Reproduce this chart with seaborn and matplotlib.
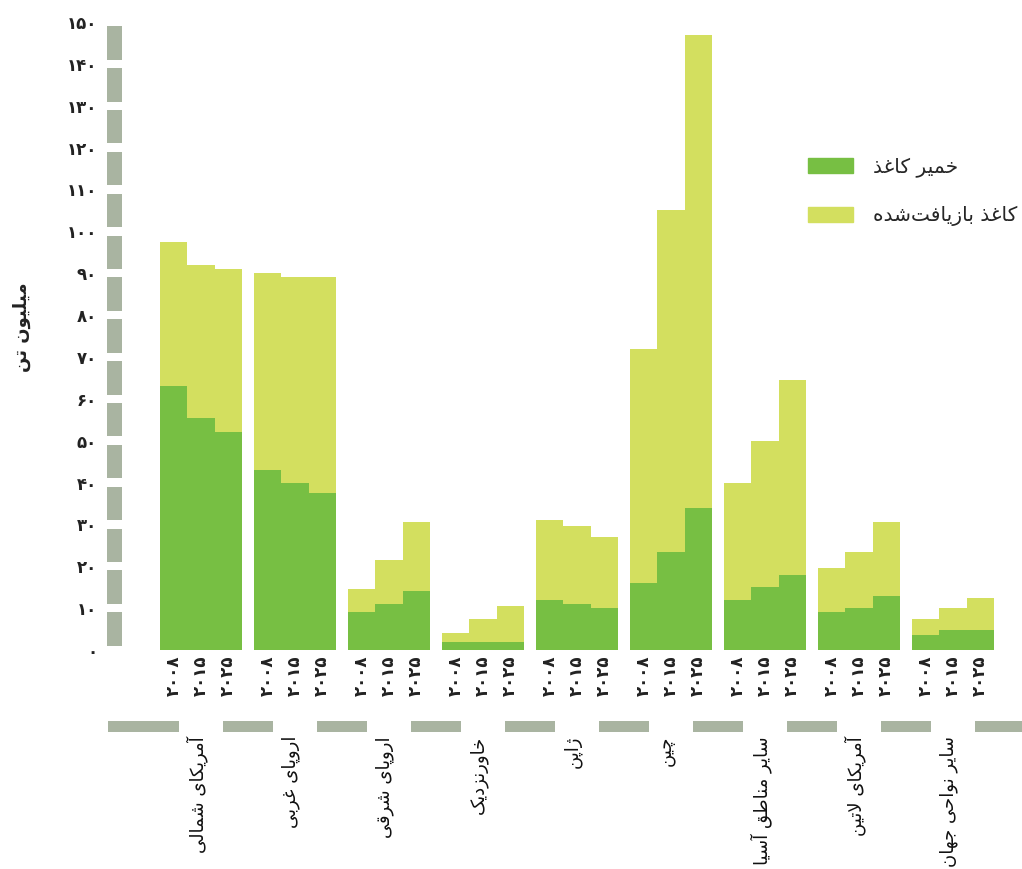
import numpy as np
import pandas as pd
import matplotlib
matplotlib.use("Agg")
import matplotlib.pyplot as plt
import seaborn as sns
from matplotlib.patches import Rectangle, Patch

# ---------------------------------------------------------------- data
regions = ["آمریکای شمالی", "اروپای غربی", "اروپای شرقی", "خاورنزدیک", "ژاپن",
           "چین", "سایر مناطق آسیا", "آمریکای لاتین", "سایر نواحی جهان"]
years = ["۲۰۰۸", "۲۰۱۵", "۲۰۲۵"]

# million tonnes, per region for 2008 / 2015 / 2025
pulp = [[63.0, 55.5, 52.0],
        [43.0, 40.0, 37.5],
        [9.0, 11.0, 14.0],
        [1.8, 1.8, 1.8],
        [12.0, 11.0, 10.0],
        [16.0, 23.5, 34.0],
        [12.0, 15.0, 18.0],
        [9.0, 10.0, 13.0],
        [3.5, 4.8, 4.8]]
recovered = [[34.5, 36.5, 39.0],
             [47.0, 49.0, 51.5],
             [5.5, 10.5, 16.5],
             [2.2, 5.7, 8.7],
             [19.0, 18.5, 17.0],
             [56.0, 81.5, 113.0],
             [28.0, 35.0, 46.5],
             [10.5, 13.5, 17.5],
             [4.0, 5.2, 7.7]]

y_ticks = list(range(0, 151, 10))
y_title = "میلیون تن"
legend_labels = ["خمیر کاغذ", "کاغذ بازیافت‌شده"]

PULP = "#77bf43"
RECYCLED = "#d3df5f"
STRIPE = "#a9b4a1"

# ------------------------------------------------- Persian text shaping
FORMS = {
    "ا": ("\uFE8D", "\uFE8E", "\uFE8D", "\uFE8E"),
    "آ": ("\uFE81", "\uFE82", "\uFE81", "\uFE82"),
    "ب": ("\uFE8F", "\uFE90", "\uFE91", "\uFE92"),
    "پ": ("\uFB56", "\uFB57", "\uFB58", "\uFB59"),
    "ت": ("\uFE95", "\uFE96", "\uFE97", "\uFE98"),
    "ج": ("\uFE9D", "\uFE9E", "\uFE9F", "\uFEA0"),
    "چ": ("\uFB7A", "\uFB7B", "\uFB7C", "\uFB7D"),
    "ح": ("\uFEA1", "\uFEA2", "\uFEA3", "\uFEA4"),
    "خ": ("\uFEA5", "\uFEA6", "\uFEA7", "\uFEA8"),
    "د": ("\uFEA9", "\uFEAA", "\uFEA9", "\uFEAA"),
    "ذ": ("\uFEAB", "\uFEAC", "\uFEAB", "\uFEAC"),
    "ر": ("\uFEAD", "\uFEAE", "\uFEAD", "\uFEAE"),
    "ز": ("\uFEAF", "\uFEB0", "\uFEAF", "\uFEB0"),
    "ژ": ("\uFB8A", "\uFB8B", "\uFB8A", "\uFB8B"),
    "س": ("\uFEB1", "\uFEB2", "\uFEB3", "\uFEB4"),
    "ش": ("\uFEB5", "\uFEB6", "\uFEB7", "\uFEB8"),
    "ط": ("\uFEC1", "\uFEC2", "\uFEC3", "\uFEC4"),
    "غ": ("\uFECD", "\uFECE", "\uFECF", "\uFED0"),
    "ف": ("\uFED1", "\uFED2", "\uFED3", "\uFED4"),
    "ق": ("\uFED5", "\uFED6", "\uFED7", "\uFED8"),
    "ک": ("\uFB8E", "\uFB8F", "\uFB90", "\uFB91"),
    "ل": ("\uFEDD", "\uFEDE", "\uFEDF", "\uFEE0"),
    "م": ("\uFEE1", "\uFEE2", "\uFEE3", "\uFEE4"),
    "ن": ("\uFEE5", "\uFEE6", "\uFEE7", "\uFEE8"),
    "ه": ("\uFEE9", "\uFEEA", "\uFEEB", "\uFEEC"),
    "و": ("\uFEED", "\uFEEE", "\uFEED", "\uFEEE"),
    "ی": ("\uFBFC", "\uFBFD", "\uFBFE", "\uFBFF"),
}
RIGHT_ONLY = set("اآدذرزژو")
LAM_ALEF = {"ا": ("\uFEFB", "\uFEFC"), "آ": ("\uFEF5", "\uFEF6")}


def fa(text):
    """Contextual forms in visual (left-to-right) order for plain RTL text."""
    chars = list(text)
    out = []
    i = 0
    while i < len(chars):
        c = chars[i]
        if c not in FORMS:
            if c != "\u200c":
                out.append(c)
            i += 1
            continue
        prev = chars[i - 1] if i > 0 else ""
        nxt = chars[i + 1] if i + 1 < len(chars) else ""
        links_prev = prev in FORMS and prev not in RIGHT_ONLY
        if c == "ل" and nxt in LAM_ALEF:
            out.append(LAM_ALEF[nxt][1 if links_prev else 0])
            i += 2
            continue
        links_next = c not in RIGHT_ONLY and nxt in FORMS
        iso, fin, ini, med = FORMS[c]
        if links_prev and links_next:
            out.append(med)
        elif links_prev:
            out.append(fin)
        elif links_next:
            out.append(ini)
        else:
            out.append(iso)
        i += 1
    return "".join(reversed(out))


def fa_num(n):
    return str(n).translate(str.maketrans("0123456789", "۰۱۲۳۴۵۶۷۸۹"))


# ---------------------------------------------------------------- table
PITCH = 3.45  # group spacing in bar widths
rows = []
for g, reg in enumerate(regions):
    for k, yr in enumerate(years):
        rows.append({"pos": g * PITCH + k, "region": reg, "year": yr,
                     "pulp": pulp[g][k], "recovered": recovered[g][k],
                     "total": pulp[g][k] + recovered[g][k]})
df = pd.DataFrame(rows)

# ---------------------------------------------------------------- figure
sns.set_theme(style="white")
plt.rcParams["font.family"] = ["DejaVu Sans"]

W, H = 1022, 869
fig = plt.figure(figsize=(W / 100, H / 100), dpi=100)
ax_left, ax_right, ax_bottom, ax_top = 100, 1022, 650, 22
ax = fig.add_axes([ax_left / W, 1 - ax_bottom / H,
                   (ax_right - ax_left) / W, (ax_bottom - ax_top) / H])

sns.barplot(data=df, x="pos", y="total", native_scale=True, width=1.0,
            color=RECYCLED, saturation=1, errorbar=None, linewidth=0, ax=ax)
sns.barplot(data=df, x="pos", y="pulp", native_scale=True, width=1.0,
            color=PULP, saturation=1, errorbar=None, linewidth=0, ax=ax)

px_per_unit = 27.25
first_edge_px = 160
ax.set_xlim(-0.5 - (first_edge_px - ax_left) / px_per_unit,
            -0.5 + (ax_right - first_edge_px) / px_per_unit)
ax.set_ylim(0, 150)
for s in ax.spines.values():
    s.set_visible(False)
ax.set_xlabel("")
ax.set_ylabel("")

# y ticks in Persian digits
ax.set_yticks(y_ticks)
ax.set_yticklabels([fa_num(v) for v in y_ticks], fontsize=12, fontweight="bold",
                   color="#222222")
ax.tick_params(axis="y", length=0, pad=2)

# year labels under each bar
ax.set_xticks(df["pos"])
ax.set_xticklabels(df["year"], rotation=90, fontsize=12, fontweight="bold",
                   color="#222222")
ax.tick_params(axis="x", length=0, pad=4)

# segmented grey band along the value axis
ytr = ax.get_yaxis_transform()
x0 = (107 - ax_left) / (ax_right - ax_left)
x1 = (122 - ax_left) / (ax_right - ax_left)
for v in y_ticks[:-1]:
    ax.add_patch(Rectangle((x0, v + 1), x1 - x0, 8, transform=ytr,
                           color=STRIPE, lw=0, clip_on=False))

# segmented grey band between year and region labels
xtr = ax.get_xaxis_transform()
h_ax = ax_bottom - ax_top
band_y0 = -(732 - ax_bottom) / h_ax
band_h = 11 / h_ax
to_data = lambda px: -0.5 + (px - first_edge_px) / px_per_unit
centers = [g * PITCH + 1 for g in range(len(regions))]
gap = 0.8
edges = [to_data(108)]
for c in centers:
    edges += [c - gap, c + gap]
edges.append(to_data(1022))
for a, b in zip(edges[0::2], edges[1::2]):
    ax.add_patch(Rectangle((a, band_y0), b - a, band_h, transform=xtr,
                           color=STRIPE, lw=0, clip_on=False))

# region names
label_top = -(736 - ax_bottom) / h_ax
for c, reg in zip(centers, regions):
    ax.text(c - 0.15, label_top, fa(reg), transform=xtr, rotation=90,
            ha="center", va="top", fontsize=13, color="#111111",
            clip_on=False)

# axis title
fig.text(22 / W, 1 - 327 / H, fa(y_title), rotation=90, ha="center",
         va="center", fontsize=13, fontweight="bold", color="#222222")

# legend
handles = [Patch(color=PULP, label=fa(legend_labels[0])),
           Patch(color=RECYCLED, label=fa(legend_labels[1]))]
ax.legend(handles=handles, loc="upper left",
          bbox_to_anchor=(808 / W, 1 - 157 / H), bbox_transform=fig.transFigure,
          frameon=False, fontsize=14.5, handlelength=2.25, handleheight=0.75,
          handletextpad=1.0, labelspacing=1.45, borderpad=0, borderaxespad=0)

fig.savefig("out.png", dpi=100, facecolor="white")
